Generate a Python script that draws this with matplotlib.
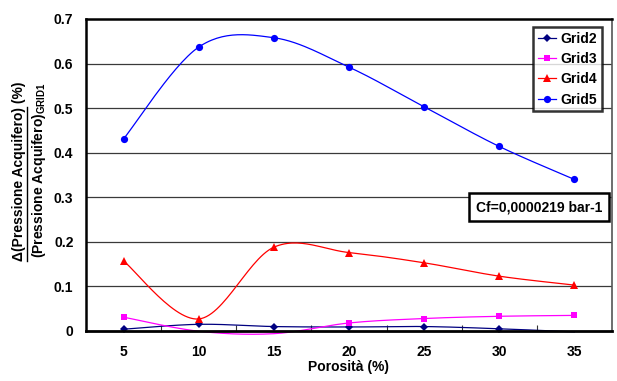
import numpy as np
import matplotlib
matplotlib.use("Agg")
import matplotlib.pyplot as plt
from matplotlib.lines import Line2D

plt.rcParams['font.family'] = ['Liberation Sans', 'DejaVu Sans']
plt.rcParams['font.weight'] = 'bold'
plt.rcParams['mathtext.fontset'] = 'custom'
plt.rcParams['mathtext.rm'] = 'Liberation Sans:bold'
plt.rcParams['mathtext.default'] = 'rm'

categories = ["5", "10", "15", "20", "25", "30", "35"]
grid2 = [0.004, 0.015, 0.010, 0.009, 0.010, 0.005, -0.002]
grid3 = [0.031, -0.0005, -0.006, 0.018, 0.028, 0.033, 0.035]
grid4 = [0.157, 0.027, 0.188, 0.176, 0.153, 0.123, 0.103]
grid5 = [0.431, 0.637, 0.658, 0.592, 0.503, 0.414, 0.340]
series_names = ["Grid2", "Grid3", "Grid4", "Grid5"]
yticks = [0, 0.1, 0.2, 0.3, 0.4, 0.5, 0.6, 0.7]
ytick_labels = ["0", "0.1", "0.2", "0.3", "0.4", "0.5", "0.6", "0.7"]

FS = 10

styles = [
    dict(color='#000080', marker='D', ms=4.2),
    dict(color='#FF00FF', marker='s', ms=5.0),
    dict(color='#FF0000', marker='^', ms=5.5),
    dict(color='#0000FF', marker='o', ms=5.2),
]

def smooth(x, y, n=30):
    x = np.asarray(x, float); y = np.asarray(y, float)
    P = np.column_stack([x, y])
    out = []
    for i in range(len(P) - 1):
        p0 = P[i - 1] if i > 0 else P[i]
        p1 = P[i]; p2 = P[i + 1]
        p3 = P[i + 2] if i + 2 < len(P) else P[i + 1]
        c1 = p1 + (p2 - p0) / 6.0
        c2 = p2 - (p3 - p1) / 6.0
        t = np.linspace(0, 1, n)[:, None]
        seg = ((1 - t) ** 3) * p1 + 3 * ((1 - t) ** 2) * t * c1 + 3 * (1 - t) * t ** 2 * c2 + t ** 3 * p2
        out.append(seg if i == 0 else seg[1:])
    s = np.vstack(out)
    return s[:, 0], s[:, 1]

W, H = 617, 381
fig = plt.figure(figsize=(W / 100, H / 100), dpi=100)
ax = fig.add_axes([86 / W, (H - 331) / H, (612 - 86) / W, (331 - 19) / H])

xs = np.arange(len(categories))
ax.set_xlim(-0.5, len(categories) - 0.5)
ax.set_ylim(0, 0.7)

for v in yticks[1:-1]:
    ax.axhline(v, color='#3a3a3a', lw=0.9, zorder=1)

for data, st, name in zip([grid2, grid3, grid4, grid5], styles, series_names):
    sx, sy = smooth(xs, data)
    ax.plot(sx, sy, color=st['color'], lw=0.9, zorder=3, clip_on=False)
    d = np.asarray(data)
    m = d >= 0
    ax.plot(xs[m], d[m], linestyle='none', marker=st['marker'], ms=st['ms'], mew=0,
            color=st['color'], zorder=4, clip_on=False)

ax.set_xticks(xs)
ax.set_xticklabels(categories, fontsize=FS, fontweight='bold')
ax.set_xticks(np.arange(0.5, len(categories) - 1, 1.0), minor=True)
ax.tick_params(axis='x', which='major', length=0, pad=10)
ax.tick_params(axis='x', which='minor', direction='in', length=4, width=0.8, color='#333333')
ax.set_yticks(yticks)
ax.set_yticklabels(ytick_labels, fontsize=FS, fontweight='bold')
ax.tick_params(axis='y', length=0, pad=9)

for s in ['left', 'top']:
    ax.spines[s].set_linewidth(1.8)
    ax.spines[s].set_color('black')
ax.spines['right'].set_linewidth(1.2)
ax.spines['right'].set_color('#555555')
ax.spines['bottom'].set_linewidth(2.0)
ax.spines['bottom'].set_color('black')
ax.spines['bottom'].set_zorder(5)

ax.set_xlabel("Porosità (%)", fontsize=FS, fontweight='bold', labelpad=1)

handles = [Line2D([], [], color=st['color'], lw=0.9, marker=st['marker'], ms=st['ms'], mew=0)
           for st in styles]
leg = ax.legend(handles, series_names, loc='upper right', bbox_to_anchor=(602 / W, (H - 27) / H),
                bbox_transform=fig.transFigure, frameon=True, fancybox=False,
                prop={'weight': 'bold', 'size': FS}, handlelength=1.3, handletextpad=0.3,
                labelspacing=0.45, borderpad=0.35, borderaxespad=0)
leg.get_frame().set_edgecolor('black')
leg.get_frame().set_linewidth(1.8)
leg.set_zorder(6)

fig.text(539 / W, (H - 207) / H, "Cf=0,0000219 bar-1", fontsize=FS, fontweight='bold',
         ha='center', va='center',
         bbox=dict(boxstyle='square,pad=0.5', fc='white', ec='black', lw=1.8))

# y label (fraction)
line1 = "Δ(Pressione Acquifero) (%)"
under = "Δ(Pressione Acquifero)"
t1 = fig.text(19 / W, (H - 171) / H, line1, rotation=90, fontsize=FS, fontweight='bold',
              ha='center', va='center')
t2 = fig.text(39.5 / W, (H - 170) / H, r"(Pressione Acquifero)$_{\mathregular{GRID1}}$",
              rotation=90, fontsize=FS, fontweight='bold', ha='center', va='center')
fig.canvas.draw()
r = fig.canvas.get_renderer()
bb = t1.get_window_extent(r)
tmp = fig.text(0, 0, under, rotation=90, fontsize=FS, fontweight='bold')
bu = tmp.get_window_extent(r)
tmp.remove()
ux = (bb.x1 + 0.5) / W
fig.add_artist(Line2D([ux, ux], [bb.y0 / H, (bb.y0 + bu.height) / H], color='black', lw=1.0,
                      transform=fig.transFigure))

fig.savefig("out.png", dpi=100)
